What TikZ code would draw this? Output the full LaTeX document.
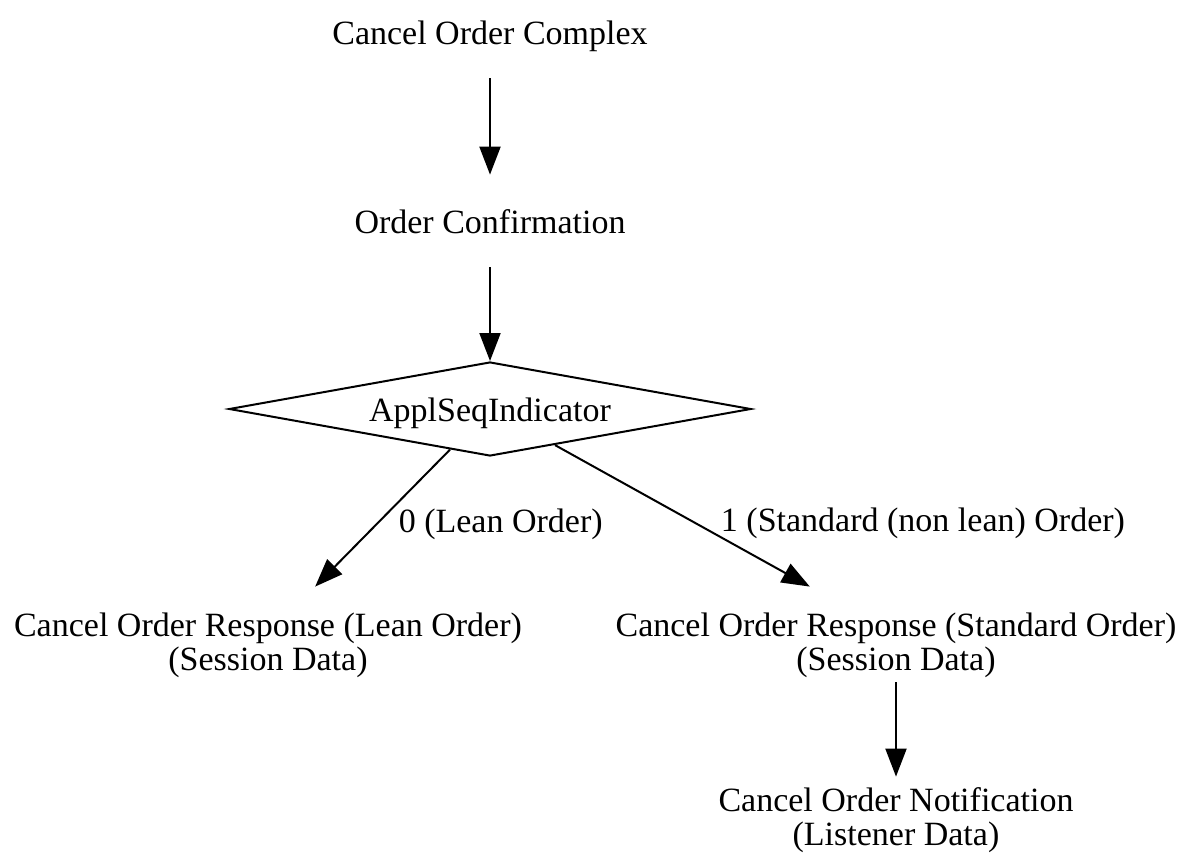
\documentclass[tikz,border=0pt]{standalone}
\usepackage{fontspec}
\setmainfont{Liberation Serif}
\usetikzlibrary{arrows.meta,shapes.geometric}

\tikzset{
	lbl/.style={inner sep=0pt, align=center, font=\fontsize{17}{17}\selectfont, text height=12.25pt},
	single/.style={lbl, text depth=0pt, minimum height=46pt},
	double/.style={lbl, text height=35.5pt, text depth=0pt, minimum height=47.5pt},
	choice/.style={lbl, text depth=0pt, draw, line width=1pt, shape=diamond, aspect=6, minimum width=261pt, minimum height=47pt},
	edge/.style={line width=1pt, -{Triangle[length=14pt,width=10.5pt]}},
	elbl/.style={inner sep=0pt, font=\fontsize{17}{17}\selectfont, anchor=base west},
}

\begin{document}
\begin{tikzpicture}[x=.5pt,y=-.5pt]
	\useasboundingbox (0,0) rectangle (1183,857);
	\node[single] (cplx) at (490,32) {Cancel Order Complex};
	\node[single] (conf) at (490,221) {Order Confirmation};
	\node[choice] (seq) at (490,409) {ApplSeqIndicator};
	\node[double] (lean) at (268,634.5) {Cancel Order Response (Lean Order)\\(Session Data)};
	\node[double] (std) at (896,634.5) {Cancel Order Response (Standard Order)\\(Session Data)};
	\node[double, text height=34pt, minimum height=0pt] (notif) at (896,811) {Cancel Order Notification\\(Listener Data)};
	% edges
	\draw[edge] (cplx) -- (conf);
	\draw[edge] (conf) -- (seq);
	\draw[edge] (seq) -- node[elbl, pos=.602, xshift=14.5pt] {0 (Lean Order)} (lean);
	\draw[edge] (seq) -- node[elbl, pos=.614, xshift=4.25pt] {1 (Standard (non lean) Order)} (std);
	\draw[edge] (std) -- (notif);
\end{tikzpicture}
\end{document}
